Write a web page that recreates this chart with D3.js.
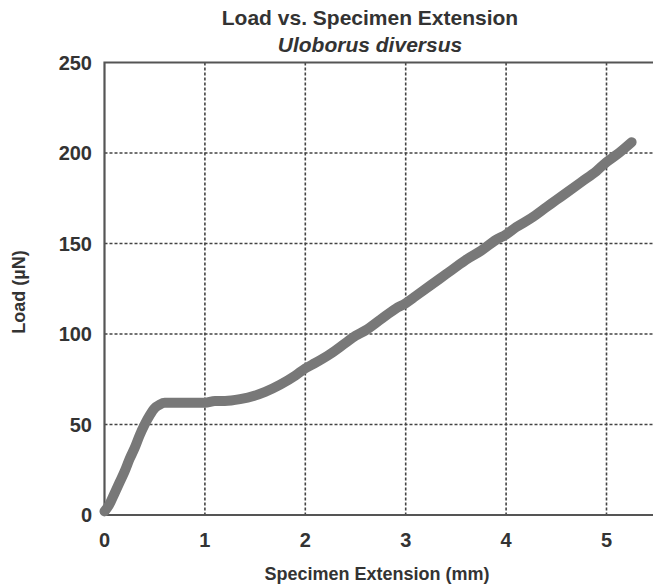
<!DOCTYPE html>
<html>
<head>
<meta charset="utf-8">
<script src="https://cdn.jsdelivr.net/npm/d3@7"></script>
<style>
  body { margin: 0; background: #fff; }
  text { font-family: "Liberation Sans", Arial, sans-serif; font-weight: bold; fill: #333; }
</style>
</head>
<body>
<script>
// chart size
var width = 653;
var height = 588;

// data (extension in mm, load in µN)
var extension = [0, 0.05, 0.1, 0.15, 0.2, 0.25, 0.3, 0.35, 0.4, 0.45, 0.5, 0.55, 0.6, 0.7, 0.8, 0.9, 1.0, 1.1, 1.2, 1.35, 1.5, 1.6, 1.75, 1.9, 2.0, 2.1, 2.25, 2.4, 2.5, 2.6, 2.75, 2.9, 3.0, 3.1, 3.25, 3.4, 3.5, 3.6, 3.75, 3.9, 4.0, 4.1, 4.25, 4.4, 4.5, 4.6, 4.75, 4.9, 5.0, 5.1, 5.25];
var load = [2, 6, 12, 18, 24, 31, 37, 44, 50, 55, 59, 61, 62, 62, 62, 62, 62, 63, 63, 64, 66, 68, 72, 77, 81, 84, 89, 95, 99, 102, 108, 114, 117, 121, 127, 133, 137, 141, 146, 152, 155, 159, 164, 170, 174, 178, 184, 190, 195, 199, 206];
var xTicks = [0, 1, 2, 3, 4, 5];
var yTicks = [0, 50, 100, 150, 200, 250];

var data = extension.map(function (d, i) { return {x: d, y: load[i]}; });

var svg = d3.select('body').append('svg')
  .attr('width', width)
  .attr('height', height);

var x = d3.scaleLinear().domain([0, 5]).range([104.5, 606.5]);
var y = d3.scaleLinear().domain([0, 250]).range([515, 62.5]);
var right = width;

// grid lines
svg.selectAll('.vgrid')
  .data(xTicks.slice(1))
  .enter().append('line')
  .attr('x1', function (d) { return x(d); })
  .attr('x2', function (d) { return x(d); })
  .attr('y1', y(250))
  .attr('y2', y(0))
  .attr('stroke', '#444')
  .attr('stroke-width', 1.6)
  .attr('stroke-dasharray', '3,2');

svg.selectAll('.hgrid')
  .data(yTicks.slice(1, -1))
  .enter().append('line')
  .attr('x1', x(0))
  .attr('x2', right)
  .attr('y1', function (d) { return y(d); })
  .attr('y2', function (d) { return y(d); })
  .attr('stroke', '#444')
  .attr('stroke-width', 1.6)
  .attr('stroke-dasharray', '3,2');

// frame: left, top, bottom
svg.append('path')
  .attr('d', 'M' + right + ',' + y(250) + 'H' + x(0) + 'V' + y(0) + 'H' + right)
  .attr('fill', 'none')
  .attr('stroke', '#555')
  .attr('stroke-width', 2.2);

// the curve
var line = d3.line()
  .x(function (d) { return x(d.x); })
  .y(function (d) { return y(d.y); })
  .curve(d3.curveMonotoneX);

svg.append('path')
  .datum(data)
  .attr('d', line)
  .attr('fill', 'none')
  .attr('stroke', '#787878')
  .attr('stroke-width', 10)
  .attr('stroke-linecap', 'round')
  .attr('stroke-linejoin', 'round');

// tick labels
svg.selectAll('.xlab')
  .data(xTicks)
  .enter().append('text')
  .attr('x', function (d) { return x(d); })
  .attr('y', 547)
  .attr('text-anchor', 'middle')
  .style('font-size', '20px')
  .text(function (d) { return d; });

svg.selectAll('.ylab')
  .data(yTicks)
  .enter().append('text')
  .attr('x', 92)
  .attr('y', function (d) { return y(d) + 7; })
  .attr('text-anchor', 'end')
  .style('font-size', '20px')
  .text(function (d) { return d; });

// titles
svg.append('text')
  .attr('x', 370).attr('y', 25)
  .attr('text-anchor', 'middle')
  .style('font-size', '21px')
  .text('Load vs. Specimen Extension');

svg.append('text')
  .attr('x', 370).attr('y', 52)
  .attr('text-anchor', 'middle')
  .style('font-size', '21px')
  .style('font-style', 'italic')
  .text('Uloborus diversus');

svg.append('text')
  .attr('x', 377).attr('y', 580)
  .attr('text-anchor', 'middle')
  .style('font-size', '18px')
  .text('Specimen Extension (mm)');

svg.append('text')
  .attr('transform', 'translate(25,292) rotate(-90)')
  .attr('text-anchor', 'middle')
  .style('font-size', '18px')
  .text('Load (µN)');
</script>
</body>
</html>
